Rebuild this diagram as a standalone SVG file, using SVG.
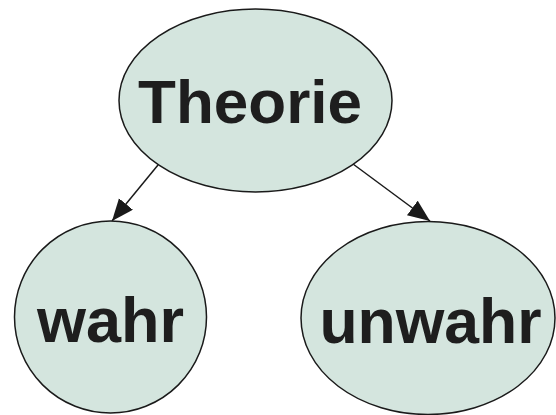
<svg xmlns="http://www.w3.org/2000/svg" width="556" height="415" viewBox="0 0 556 415">
  <style>
    .node { fill: #d4e5de; stroke: #1a1a1a; stroke-width: 1.5; }
    .label { font-family: "Liberation Sans", Arial, sans-serif; font-weight: bold; fill: #1e1e1e; text-anchor: middle; }
    .edge { stroke: #1a1a1a; stroke-width: 1.5; fill: none; }
  </style>
  <defs>
    <marker id="arrow" markerUnits="userSpaceOnUse" markerWidth="24" markerHeight="20" refX="22" refY="9" orient="auto">
      <path d="M0,0 L22,9 L0,18 Z" fill="#1a1a1a"/>
    </marker>
  </defs>
  <rect width="556" height="415" fill="#ffffff"/>

  <g id="connectors">
    <line class="edge" x1="158" y1="165" x2="112" y2="221" marker-end="url(#arrow)"/>
    <line class="edge" x1="353" y1="164" x2="430" y2="221" marker-end="url(#arrow)"/>
  </g>

  <g id="node-theorie">
    <ellipse class="node" cx="255.5" cy="100.5" rx="136.5" ry="91.5"/>
    <text class="label" x="250" y="123" font-size="62">Theorie</text>
  </g>

  <g id="node-wahr">
    <ellipse class="node" cx="110.5" cy="317" rx="96" ry="96"/>
    <text class="label" x="110.5" y="342" font-size="63">wahr</text>
  </g>

  <g id="node-unwahr">
    <ellipse class="node" cx="428" cy="318" rx="127" ry="96.5"/>
    <text class="label" x="430.5" y="343" font-size="62.5">unwahr</text>
  </g>
</svg>
